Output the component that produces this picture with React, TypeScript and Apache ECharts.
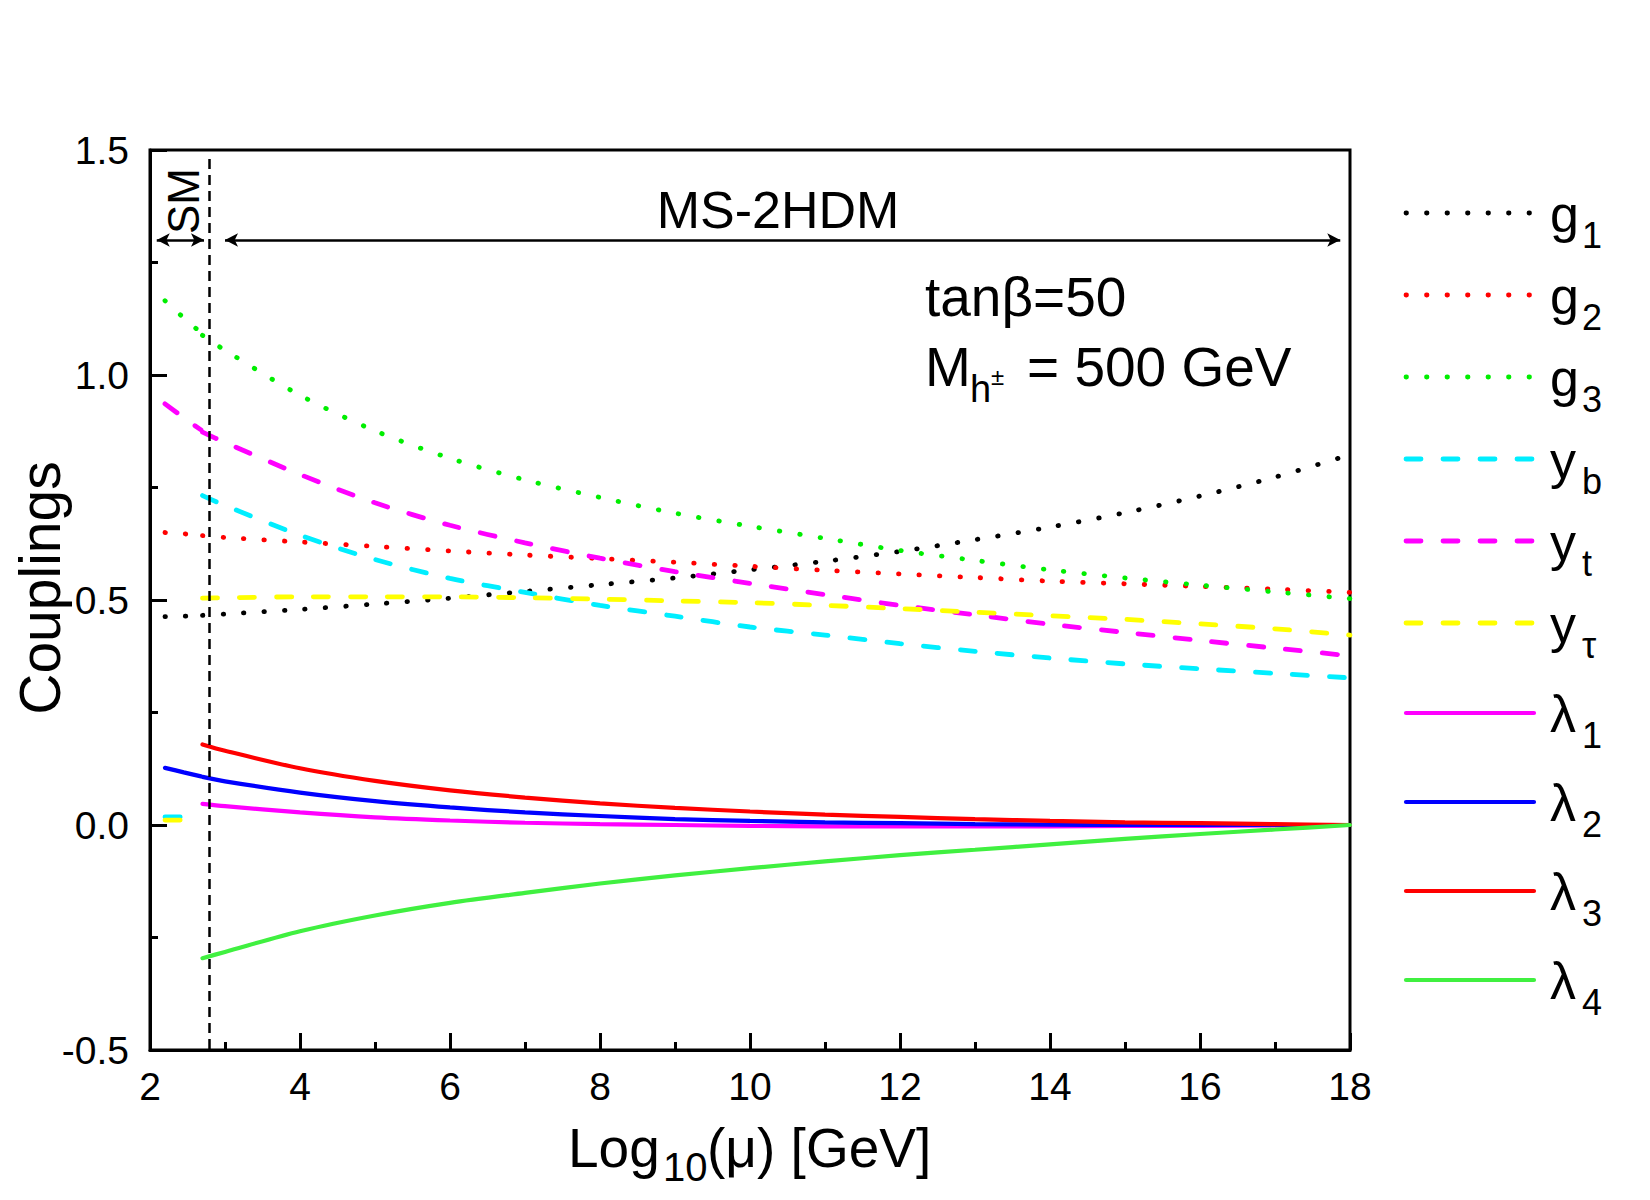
import React, { useEffect, useRef } from "react";
import * as echarts from "echarts";

// ---------- data ----------
const X_SM = [2.2, 2.45, 2.68];
const X_MS = [2.7, 3, 4, 5, 6, 7, 8, 9, 10, 11, 12, 13, 14, 15, 16, 17, 18];

const G1_SM = [0.463, 0.464, 0.465];
const G1_MS = [0.466, 0.469, 0.479, 0.491, 0.504, 0.519, 0.534, 0.549, 0.567, 0.586, 0.608, 0.634, 0.662, 0.694, 0.731, 0.773, 0.823];
const G2_SM = [0.65, 0.647, 0.644];
const G2_MS = [0.643, 0.639, 0.629, 0.619, 0.609, 0.6, 0.592, 0.584, 0.575, 0.566, 0.558, 0.55, 0.542, 0.536, 0.53, 0.524, 0.517];
const G3_SM = [1.165, 1.127, 1.094];
const G3_MS = [1.088, 1.055, 0.955, 0.876, 0.815, 0.767, 0.728, 0.693, 0.664, 0.637, 0.61, 0.588, 0.567, 0.549, 0.533, 0.518, 0.503];
const YB_SM = [0.018, 0.018, 0.017];
const YB_MS = [0.732, 0.71, 0.644, 0.59, 0.548, 0.517, 0.488, 0.464, 0.44, 0.422, 0.403, 0.386, 0.371, 0.358, 0.347, 0.337, 0.327];
const YT_SM = [0.936, 0.905, 0.878];
const YT_MS = [0.873, 0.85, 0.779, 0.716, 0.666, 0.627, 0.593, 0.563, 0.537, 0.512, 0.488, 0.467, 0.446, 0.428, 0.41, 0.393, 0.376];
const YTAU_SM = [0.011, 0.011, 0.011];
const YTAU_MS = [0.504, 0.505, 0.507, 0.507, 0.507, 0.505, 0.502, 0.498, 0.494, 0.488, 0.481, 0.473, 0.465, 0.457, 0.447, 0.436, 0.422];
const L1_MS = [0.047, 0.042, 0.028, 0.017, 0.01, 0.005, 0.002, 0.0, -0.002, -0.003, -0.003, -0.003, -0.003, -0.002, -0.002, -0.001, 0.0];
const L2_SM = [0.127, 0.117, 0.108];
const L2_MS = [0.107, 0.097, 0.072, 0.053, 0.039, 0.028, 0.02, 0.013, 0.009, 0.006, 0.004, 0.002, 0.001, 0.0, 0.0, 0.0, 0.0];
const L3_MS = [0.179, 0.165, 0.126, 0.098, 0.077, 0.061, 0.048, 0.038, 0.03, 0.023, 0.018, 0.013, 0.009, 0.006, 0.004, 0.002, 0.0];
const L4_MS = [-0.296, -0.282, -0.236, -0.201, -0.173, -0.151, -0.13, -0.112, -0.096, -0.081, -0.067, -0.055, -0.043, -0.031, -0.02, -0.01, 0.0];

const SERIES_MAIN = ["g", "g", "g", "y", "y", "y", "λ", "λ", "λ", "λ"];
const SERIES_SUB = ["1", "2", "3", "b", "t", "τ", "1", "2", "3", "4"];
const SERIES_COLOR = ["#000000", "#ff0000", "#00ee00", "#00eeff", "#ff00ff", "#ffff00", "#ff00ff", "#0000ff", "#ff0000", "#40f040"];
const SERIES_KIND = ["dot", "dot", "dot", "dash", "dash", "dash", "solid", "solid", "solid", "solid"];
const SERIES_SM = [G1_SM, G2_SM, G3_SM, YB_SM, YT_SM, YTAU_SM, null, L2_SM, null, null];
const SERIES_MS = [G1_MS, G2_MS, G3_MS, YB_MS, YT_MS, YTAU_MS, L1_MS, L2_MS, L3_MS, L4_MS];

const X_TICKS_MIN = 2, X_TICKS_MAX = 18, X_INTERVAL = 2;
const Y_MIN = -0.5, Y_MAX = 1.5, Y_INTERVAL = 0.5;
const THRESHOLD_X = 2.79;
const ARROW_Y = 1.3;
const SM_ARROW = [2.09, 2.72];
const MS_ARROW = [3.0, 17.87];

const FONT = '"Liberation Sans", Arial, Helvetica, sans-serif';

function buildData(sm: number[] | null, ms: number[]) {
  const d: any[] = [];
  if (sm) {
    sm.forEach((v, i) => d.push([X_SM[i], v]));
    d.push([2.69, "-"]);
  }
  ms.forEach((v, i) => d.push([X_MS[i], v]));
  return d;
}

function lineStyleFor(kind: string, color: string) {
  if (kind === "dot") return { color, width: 4.8, type: [0.5, 20], cap: "round" };
  if (kind === "dash") return { color, width: 4.8, type: [15, 22], cap: "round" };
  return { color, width: 4.2, type: "solid", cap: "round" };
}

function txt(text: string, x: number, y: number, fontSize: number, align = "left", rotation = 0) {
  return {
    type: "text",
    x,
    y,
    rotation,
    silent: true,
    style: {
      text,
      fontSize,
      fontFamily: FONT,
      fill: "#000",
      align,
      verticalAlign: "middle",
      textAlign: align,
      textVerticalAlign: "middle",
    },
  };
}

export default function App() {
  const ref = useRef<HTMLDivElement>(null);
  useEffect(() => {
    if (!ref.current) return;
    const chart = echarts.init(ref.current, undefined, { renderer: "svg" });

    const series: any[] = SERIES_MS.map((ms, i) => ({
      name: SERIES_MAIN[i] + SERIES_SUB[i],
      type: "line",
      data: buildData(SERIES_SM[i], ms),
      showSymbol: false,
      symbol: "none",
      smooth: 0.3,
      connectNulls: false,
      lineStyle: lineStyleFor(SERIES_KIND[i], SERIES_COLOR[i]),
      silent: true,
    }));

    series[0].markLine = {
      silent: true,
      symbol: ["none", "none"],
      label: { show: false },
      lineStyle: { color: "#000", width: 2.5, type: [10, 6] },
      data: [[{ coord: [THRESHOLD_X, 1.48] }, { coord: [THRESHOLD_X, Y_MIN] }]],
    };
    series[1].markLine = {
      silent: true,
      symbol: ["arrow", "arrow"],
      symbolSize: [10, 13],
      label: { show: false },
      lineStyle: { color: "#000", width: 2.5, type: "solid" },
      data: [
        [{ coord: [SM_ARROW[0], ARROW_Y] }, { coord: [SM_ARROW[1], ARROW_Y] }],
        [{ coord: [MS_ARROW[0], ARROW_Y] }, { coord: [MS_ARROW[1], ARROW_Y] }],
      ],
    };

    const graphic: any[] = [];
    graphic.push(txt("Couplings", 40, 588, 57, "center", Math.PI / 2));
    graphic.push(txt("Log", 568, 1148, 55));
    graphic.push(txt("10", 663, 1167, 40));
    graphic.push(txt("(μ) [GeV]", 707, 1148, 55));
    graphic.push(txt("MS-2HDM", 778, 210, 52, "center"));
    graphic.push(txt("SM", 183, 201, 44, "center", Math.PI / 2));
    graphic.push(txt("tanβ=50", 925, 297, 55));
    graphic.push(txt("M", 925, 367, 55));
    graphic.push(txt("h", 970, 389, 38));
    graphic.push(txt("±", 991, 376, 24));
    graphic.push(txt("= 500 GeV", 1027, 367, 55));

    SERIES_MAIN.forEach((m, i) => {
      const ly = i < 6 ? 213 + 82 * i : 713 + 89 * (i - 6);
      const ls = lineStyleFor(SERIES_KIND[i], SERIES_COLOR[i]) as any;
      graphic.push({
        type: "line",
        silent: true,
        shape: { x1: 1406, y1: ly, x2: 1534, y2: ly },
        style: {
          stroke: ls.color,
          lineWidth: ls.width,
          lineDash: Array.isArray(ls.type) ? ls.type : null,
          lineCap: "round",
        },
      });
      graphic.push(txt(m, 1550, ly + 1, 52));
      graphic.push(txt(SERIES_SUB[i], 1582, ly + 22, 36));
    });

    chart.setOption({
      animation: false,
      backgroundColor: "#fff",
      grid: { left: 150, top: 150, width: 1200, height: 900, show: true, borderColor: "#000", borderWidth: 3, backgroundColor: "transparent" },
      xAxis: {
        type: "value",
        min: X_TICKS_MIN,
        max: X_TICKS_MAX,
        interval: X_INTERVAL,
        axisLine: { show: true, onZero: false, lineStyle: { color: "#000", width: 3 } },
        axisTick: { show: true, inside: true, length: 17, lineStyle: { color: "#000", width: 3 } },
        minorTick: { show: true, splitNumber: 2, length: 8, lineStyle: { color: "#000", width: 3 } },
        splitLine: { show: false },
        axisLabel: { color: "#000", fontSize: 39, fontFamily: FONT, margin: 17 },
      },
      yAxis: {
        type: "value",
        min: Y_MIN,
        max: Y_MAX,
        interval: Y_INTERVAL,
        axisLine: { show: true, onZero: false, lineStyle: { color: "#000", width: 3 } },
        axisTick: { show: true, inside: true, length: 17, lineStyle: { color: "#000", width: 3 } },
        minorTick: { show: true, splitNumber: 2, length: 8, lineStyle: { color: "#000", width: 3 } },
        splitLine: { show: false },
        axisLabel: { color: "#000", fontSize: 39, fontFamily: FONT, margin: 21, formatter: (v: number) => v.toFixed(1) },
      },
      series,
      graphic,
    });
    return () => chart.dispose();
  }, []);
  return <div ref={ref} style={{ position: "fixed", left: 0, top: 0, width: 1650, height: 1200, background: "#fff" }} />;
}
